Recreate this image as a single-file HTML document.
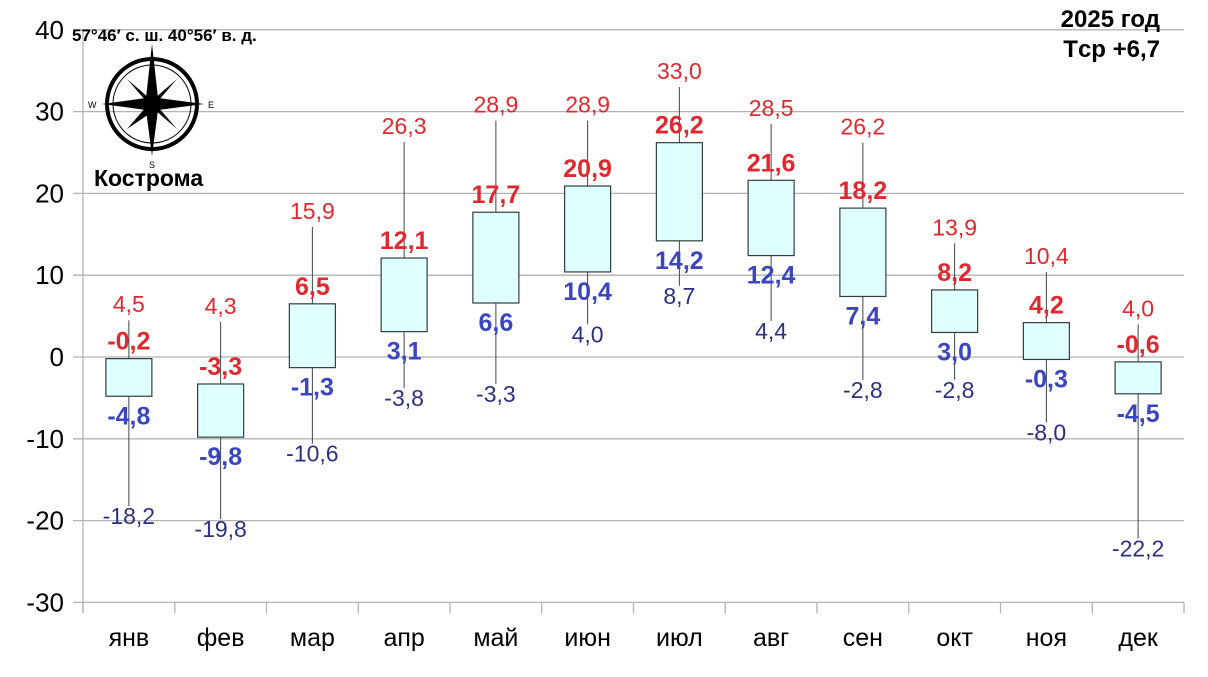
<!DOCTYPE html>
<html><head><meta charset="utf-8"><style>
body{margin:0;background:#fff;}
svg text{font-family:"Liberation Sans",sans-serif;}
</style></head><body>
<svg id="c" width="1208" height="672" xmlns="http://www.w3.org/2000/svg"></svg>
<script>
const months=["янв","фев","мар","апр","май","июн","июл","авг","сен","окт","ноя","дек"];
const maxT=[4.5,4.3,15.9,26.3,28.9,28.9,33.0,28.5,26.2,13.9,10.4,4.0];
const minT=[-18.2,-19.8,-10.6,-3.8,-3.3,4.0,8.7,4.4,-2.8,-2.8,-8.0,-22.2];
const topV=[-0.2,-3.3,6.5,12.1,17.7,20.9,26.2,21.6,18.2,8.2,4.2,-0.6];
const botV=[-4.8,-9.8,-1.3,3.1,6.6,10.4,14.2,12.4,7.4,3.0,-0.3,-4.5];
const yTicks=[40,30,20,10,0,-10,-20,-30];
const NS="http://www.w3.org/2000/svg";
const svg=document.getElementById('c');
const L=83,R=1184,Y0=357,S=8.18;
const y=v=>Y0-v*S;
const cw=(R-L)/12;
const x=i=>L+cw*(i+0.5);
const fmt=v=>v.toFixed(1).replace('.',',');
function el(t,a,p){const e=document.createElementNS(NS,t);for(const k in a)e.setAttribute(k,a[k]);(p||svg).appendChild(e);return e;}
yTicks.forEach(t=>{
 const g=el('line',{x1:73,x2:R,y1:y(t),y2:y(t),stroke:'#b3b3b3','stroke-width':1.3});
 
 
 const tx=el('text',{x:64,y:y(t)+9,'font-size':26,'text-anchor':'end',fill:'#000'});tx.textContent=t;
 
 
});
el('line',{x1:L,x2:L,y1:y(40),y2:y(-30)+10,stroke:'#b3b3b3','stroke-width':1.3});
for(let i=0;i<=12;i++)el('line',{x1:L+cw*i,x2:L+cw*i,y1:y(-30),y2:y(-30)+11,stroke:'#b3b3b3','stroke-width':1.3});
months.forEach((m,i)=>{
 const cx=x(i);
 const w=el('line',{x1:cx,x2:cx,y1:y(maxT[i]),y2:y(minT[i]),stroke:'#3a4a4a','stroke-width':1});
 
 
 const b=el('rect',{x:cx-23,y:y(topV[i]),width:46,height:y(botV[i])-y(topV[i]),fill:'#e0ffff',stroke:'#2f3f3f','stroke-width':1.2});
 
 
 const t1=el('text',{x:cx,y:y(maxT[i])-8,'font-size':23,'text-anchor':'middle',fill:'#e0282e'});t1.textContent=fmt(maxT[i]);
 
 
 const t2=el('text',{x:cx,y:y(minT[i])+18,'font-size':23,'text-anchor':'middle',fill:'#2b3180'});t2.textContent=fmt(minT[i]);
 
 
 const t3=el('text',{x:cx,y:y(topV[i])-9,'font-size':25,'font-weight':'bold','text-anchor':'middle',fill:'#e0282e'});t3.textContent=fmt(topV[i]);
 
 
 const t4=el('text',{x:cx,y:y(botV[i])+28,'font-size':25,'font-weight':'bold','text-anchor':'middle',fill:'#3a45c0'});t4.textContent=fmt(botV[i]);
 
 
 const t5=el('text',{x:cx,y:646,'font-size':25,'text-anchor':'middle',fill:'#000'});t5.textContent=m;
 
 
});
</script>
<svg style="position:absolute;left:0;top:0" width="1208" height="672">
<text x="1160" y="27" font-size="24" font-weight="bold" text-anchor="end">2025 год</text>
<text x="1160" y="57" font-size="24" font-weight="bold" text-anchor="end">Tср +6,7</text>
<text x="72" y="41" font-size="17" font-weight="bold">57°46′ с. ш. 40°56′ в. д.</text>
<text x="94" y="186" font-size="23" font-weight="bold">Кострома</text>
<g transform="translate(152,104)">
<circle r="45" fill="none" stroke="#000" stroke-width="4"/>
<circle r="39" fill="none" stroke="#000" stroke-width="1"/>
<polygon points="0,-60 6,-6 0,0 -6,-6" fill="#000"/>
<polygon points="0,52 6,6 0,0 -6,6" fill="#000"/>
<polygon points="-50,0 -6,-6 0,0 -6,6" fill="#000"/>
<polygon points="52,0 6,-6 0,0 6,6" fill="#000"/>
<polygon points="-25,-25 -3,-6 0,0 -6,-3" fill="#000"/>
<polygon points="25,-25 6,-3 0,0 3,-6" fill="#000"/>
<polygon points="-25,25 -6,3 0,0 3,6" fill="#000"/>
<polygon points="25,25 3,6 0,0 6,3" fill="#000"/>
<text x="-64" y="4" font-size="9" font-family="Liberation Serif">W</text>
<text x="56" y="4" font-size="9" font-family="Liberation Serif">E</text>
<text x="-3" y="64" font-size="9" font-family="Liberation Serif">S</text>
</g>
</svg>
</body></html>
